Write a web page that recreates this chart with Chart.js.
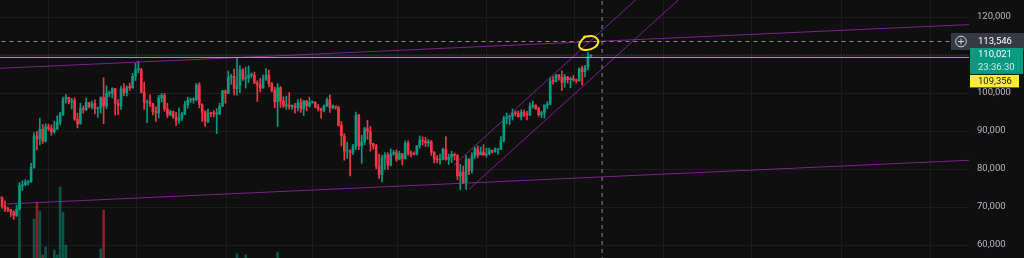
<!DOCTYPE html>
<html>
<head>
<meta charset="utf-8">
<script src="https://cdn.jsdelivr.net/npm/chart.js@4.4.1/dist/chart.umd.min.js"></script>
<style>
  html, body { margin: 0; padding: 0; background: #0f0f0f; overflow: hidden; }
  canvas { display: block; }
</style>
</head>
<body>
<canvas id="chart" width="1024" height="258"></canvas>
<script>
// Daily candles. Day 0 = 1 Nov 2024, first candle is 29 Oct (day -3).
// Open of each candle = previous close.
const FIRST_DAY  = -3;
const FIRST_OPEN = 69900;

const closes = [
  72700, 72300, 70200,
  // Nov
  69500, 69300, 68700, 67800, 69400, 75600, 75900, 76500, 76700, 80400,
  88700, 87900, 90500, 87300, 91100, 90600, 89800, 90500, 92300, 94300,
  98400, 98900, 97700, 98000, 93100, 91900, 95900, 95600, 97500, 96400,
  // Dec
  97200, 95900, 96000, 98800, 96600, 99900, 99900, 101200, 97300, 96600,
  101100, 100000, 101500, 101400, 104400, 106100, 106100, 100200, 97500, 97800,
  97200, 95100, 94700, 98700, 99400, 95800, 94200, 95100, 93700, 92800, 93400,
  // Jan
  94400, 96900, 98100, 98200, 98300, 102100, 96900, 95000, 92500, 94700,
  94600, 94500, 94500, 96500, 100500, 99900, 104100, 104400, 101100, 102000,
  106100, 103700, 104000, 104700, 104700, 102600, 102100, 101300, 103700, 104700, 102400,
  // Feb
  100700, 97700, 101400, 97900, 96600, 96600, 96500, 96500, 96100, 97400,
  95800, 97900, 96600, 97500, 97600, 96200, 95800, 95500, 96600, 98300,
  96100, 96600, 96200, 91500, 88700, 84700, 84700, 84400,
  // Mar
  86000, 94200, 86100, 87200, 90600, 89900, 86700, 86100, 80700, 78500,
  82900, 83700, 81000, 84000, 84300, 82600, 84000, 82700, 86800, 84200,
  84000, 83800, 86100, 87500, 87400, 86900, 87200, 84400, 82600, 82400, 82500,
  // Apr
  85200, 82500, 83100, 83900, 83500, 78200, 79200, 76300, 82600, 79600,
  83400, 85300, 83700, 84500, 83700, 84000, 84900, 84500, 85100, 85100,
  87500, 93400, 93700, 93900, 94700, 94600, 93800, 94900, 94300, 94200,
  // May
  96500, 96800, 95900, 94300, 94800, 96800, 97000, 103200, 103000, 104700,
  104100, 102800, 104200, 103500, 103800, 103500, 103200, 106400, 105600, 106800,
  109700, 110021
];

const highs = [
  73600, 72900, 72700,
  71600, 70000, 69400, 69000, 70500, 76400, 76900, 77200, 77000, 81500,
  89600, 89900, 93400, 91700, 91900, 91800, 91600, 92600, 94000, 94900,
  98900, 99600, 98800, 98600, 98800, 94700, 97300, 96600, 98700, 97500,
  97900, 98200, 96300, 99000, 104000, 101900, 100500, 101400, 101200, 98300,
  101800, 102500, 101900, 102600, 105200, 107800, 108300, 106500, 102800, 98200,
  99500, 97300, 96400, 99400, 99900, 99900, 97300, 95500, 95200, 94900, 96100,
  94900, 97800, 98900, 98700, 98800, 102500, 102700, 97200, 95400, 95800,
  95000, 95400, 95900, 97300, 100700, 100800, 105800, 104900, 106300, 109400,
  107200, 106400, 106800, 107100, 105300, 105500, 103200, 103800, 104800, 106400, 106000,
  102800, 101500, 102500, 101700, 99000, 99200, 100100, 96900, 97300, 98300,
  98500, 98100, 98000, 98800, 97900, 97700, 97000, 96000, 96900, 98700,
  99500, 96900, 96500, 96500, 92500, 89300, 87100, 85100,
  86500, 95000, 94400, 88900, 91000, 92800, 91200, 86800, 86500, 83900,
  83600, 84300, 84300, 85300, 84900, 85000, 84700, 84000, 87400, 87400,
  84800, 84500, 86100, 88700, 88500, 88300, 87800, 87500, 84600, 83500, 83900,
  85500, 88500, 83900, 84700, 84200, 83800, 81200, 80800, 83500, 82700,
  84300, 85800, 86100, 85800, 86400, 85500, 85500, 85000, 85600, 85300,
  88500, 93900, 94700, 94000, 95800, 95300, 95300, 95600, 95500, 95200,
  97400, 97900, 96900, 96300, 95200, 96900, 97700, 104100, 104300, 104900,
  104900, 105800, 104900, 104400, 104200, 104600, 103700, 106600, 107100, 107300,
  110700, 110100
];

const lows = [
  69700, 71400, 69700,
  68800, 68800, 67500, 66800, 67500, 69400, 74400, 75600, 75800, 76500,
  80200, 85100, 86300, 86700, 87100, 90100, 88900, 89400, 90400, 91600,
  94100, 97300, 97200, 95800, 92800, 90800, 91800, 94700, 95400, 96100,
  95800, 94500, 93600, 94700, 91900, 95900, 99000, 98700, 94200, 94300,
  95700, 99300, 99200, 100700, 101200, 103300, 105300, 100000, 95700, 92200,
  96400, 94200, 92500, 93400, 97600, 95200, 93500, 94000, 93300, 91500, 92000,
  92800, 94300, 96000, 97500, 97300, 97900, 96100, 92500, 91200, 92200,
  93800, 93700, 89300, 94300, 96500, 97300, 99900, 102300, 99500, 99500,
  100100, 103300, 101300, 102800, 104100, 102500, 97800, 100300, 101300, 103300, 101600,
  100300, 96100, 91200, 96200, 96200, 95700, 95700, 95700, 94700, 95300,
  94900, 94100, 95300, 96300, 97300, 96100, 95300, 93400, 95000, 96400,
  94900, 95800, 95700, 91300, 86100, 82300, 82800, 78200,
  83800, 85100, 85100, 81500, 86400, 87800, 84700, 85200, 80000, 77500,
  76600, 79900, 79900, 80800, 83600, 82000, 82400, 81100, 82600, 83600,
  83200, 83700, 83700, 85500, 86300, 85900, 85900, 83600, 81600, 81600, 81300,
  82400, 82300, 81200, 81700, 82400, 77200, 74500, 76200, 74600, 78500,
  78900, 82800, 83000, 83900, 83600, 83100, 83700, 84200, 84400, 83900,
  85100, 87100, 91900, 91700, 92900, 93900, 93600, 92900, 93800, 92900,
  94100, 96000, 95700, 93900, 93500, 93400, 95900, 96900, 102300, 102900,
  103400, 100700, 101500, 102600, 101400, 103100, 102600, 103100, 102100, 104200,
  106100, 109600
];

// Volume (K) - only the spikes that reach into the visible crop
const volDays   = [5, 10, 11, 12, 13, 14, 17, 18, 19, 20, 21, 33, 34, 80, 83, 94];
const volValues = [72.5, 65.1, 71.7, 68.2, 51.2, 54.3, 53.1, 51.2, 77.5, 67.8, 55.0, 53.5, 68.6, 51.6, 51.2, 52.3];

// Grid
const monthTicks = [0, 30, 61, 92, 120, 151, 181, 212, 242, 273, 304, 334];
const priceTicks = [60000, 70000, 80000, 90000, 100000, 110000, 120000];

// Drawings, as [day, price]
const trendTop    = [[-1.7, 106500], [332.4, 118000]];
const trendBottom = [[0.6, 70800], [332.4, 82300]];
const channelTop  = [[154.8, 81050], [230, 133200]];
const channelBot  = [[160, 74650], [240, 129900]];
const circleMark  = [
  [199.4, 114660], [202.3, 115000], [204.0, 114400], [204.6, 113340], [203.4, 112030],
  [200.6, 111320], [198.5, 111660], [198.0, 112630], [198.9, 113950], [200.0, 114820]
];

const ATH_LEVEL   = 109356;
const LAST_PRICE  = 110021;
const CROSS_PRICE = 113546;
const CROSS_DAY   = 205.9;
const COUNTDOWN   = '23:36:30';

const X_MIN = -1.724, X_MAX = 332.41;
const Y_MIN = 56579,  Y_MAX = 124474;

const UP   = '#089981';
const DOWN = '#f23645';
const PURPLE = 'rgba(156, 39, 176, 0.78)';

const candles = closes.map((c, k) => {
  const o = k === 0 ? FIRST_OPEN : closes[k - 1];
  return { x: FIRST_DAY + k, o: o, h: highs[k], l: lows[k], c: c };
});
const candleColor = candles.map(d => (d.c >= d.o ? UP : DOWN));

const volData = volDays.map((day, k) => ({ x: day, y: volValues[k] }));
const volColor = volDays.map(day => {
  const d = candles[day - FIRST_DAY];
  return d.c >= d.o ? 'rgba(8, 153, 129, 0.5)' : 'rgba(242, 54, 69, 0.5)';
});

const pts = arr => arr.map(p => ({ x: p[0], y: p[1] }));
const hLine = v => [{ x: X_MIN - 5, y: v }, { x: X_MAX + 5, y: v }];

function lineSet(data, color, extra) {
  return Object.assign({
    type: 'line', data: data, borderColor: color, borderWidth: 1,
    pointRadius: 0, fill: false, tension: 0, yAxisID: 'y', order: 1
  }, extra || {});
}

// price tags on the right axis
const priceTags = {
  id: 'priceTags',
  afterDraw(chart) {
    const { ctx, scales: { y } } = chart;
    ctx.save();
    ctx.font = '9.5px Roboto';
    ctx.textBaseline = 'middle';
    ctx.textAlign = 'left';

    // crosshair price
    const cy = y.getPixelForValue(CROSS_PRICE);
    ctx.fillStyle = '#363a45';
    ctx.fillRect(951, cy - 8.5, 73, 17);
    ctx.strokeStyle = '#d1d4dc';
    ctx.lineWidth = 1;
    ctx.beginPath();
    ctx.arc(961, cy, 5.3, 0, Math.PI * 2);
    ctx.moveTo(958, cy); ctx.lineTo(964, cy);
    ctx.moveTo(961, cy - 3); ctx.lineTo(961, cy + 3);
    ctx.stroke();
    ctx.fillStyle = '#ffffff';
    ctx.fillText(CROSS_PRICE.toLocaleString('en-US'), 978, cy + 0.5);

    // last price + countdown
    const ly = y.getPixelForValue(LAST_PRICE);
    ctx.fillStyle = UP;
    ctx.fillRect(970, ly - 7, 53, 26);
    ctx.fillStyle = '#ffffff';
    ctx.fillText(LAST_PRICE.toLocaleString('en-US'), 978, ly);
    ctx.fillStyle = '#c8ebe4';
    ctx.fillText(COUNTDOWN, 978, ly + 12.5);

    // ATH level (pushed below the last price tag)
    const ay = ly + 20;
    ctx.fillStyle = '#ffeb3b';
    ctx.fillRect(970, ay, 49, 12.5);
    ctx.fillStyle = '#131722';
    ctx.fillText(ATH_LEVEL.toLocaleString('en-US'), 978, ay + 6.5);
    ctx.restore();
  }
};

new Chart(document.getElementById('chart'), {
  type: 'bar',
  data: {
    datasets: [
      {
        // volume
        data: volData, backgroundColor: volColor, yAxisID: 'vol',
        barThickness: 2, grouped: false, order: 6
      },
      {
        // wicks
        data: candles.map(d => ({ x: d.x, y: [d.l, d.h] })),
        backgroundColor: candleColor, yAxisID: 'y',
        barThickness: 1, grouped: false, order: 5
      },
      {
        // bodies
        data: candles.map(d => ({ x: d.x, y: [d.o, d.c] })),
        backgroundColor: candleColor, yAxisID: 'y',
        barThickness: 2, minBarLength: 1, grouped: false, order: 4
      },
      lineSet(hLine(ATH_LEVEL), '#c4b020'),
      lineSet(hLine(LAST_PRICE), 'rgba(8, 153, 129, 0.7)', { borderDash: [1, 2] }),
      lineSet(hLine(CROSS_PRICE), '#8a8d95', { borderDash: [4, 4] }),
      lineSet([{ x: CROSS_DAY, y: Y_MIN - 5000 }, { x: CROSS_DAY, y: Y_MAX + 5000 }], '#8a8d95', { borderDash: [4, 4] }),
      lineSet(pts(trendTop), PURPLE),
      lineSet(pts(trendBottom), PURPLE),
      lineSet(pts(channelTop), PURPLE),
      lineSet(pts(channelBot), PURPLE),
      lineSet(pts(circleMark.concat([circleMark[0]])), '#ffe81a', { borderWidth: 2, tension: 0.45, order: 0 })
    ]
  },
  options: {
    responsive: false,
    animation: false,
    devicePixelRatio: 1,
    layout: { padding: 0 },
    plugins: { legend: { display: false }, tooltip: { enabled: false } },
    scales: {
      x: {
        type: 'linear', min: X_MIN, max: X_MAX, offset: false,
        ticks: { display: false },
        grid: { color: '#1c1c1c', drawTicks: false },
        border: { display: false },
        afterBuildTicks: s => { s.ticks = monthTicks.map(v => ({ value: v })); },
        afterFit: s => { s.height = 0; s.paddingLeft = 0; s.paddingRight = 0; }
      },
      y: {
        type: 'linear', position: 'right', min: Y_MIN, max: Y_MAX,
        ticks: {
          color: '#b2b5be', padding: 8,
          font: { family: 'Roboto', size: 9.5 },
          callback: v => v.toLocaleString('en-US')
        },
        grid: { color: '#1c1c1c', drawTicks: false },
        border: { display: false },
        afterBuildTicks: s => { s.ticks = priceTicks.map(v => ({ value: v })); },
        afterFit: s => { s.width = 55; s.paddingTop = 0; s.paddingBottom = 0; }
      },
      vol: {
        type: 'linear', display: false, min: 50, max: 150
      }
    }
  },
  plugins: [priceTags]
});
</script>
</body>
</html>
